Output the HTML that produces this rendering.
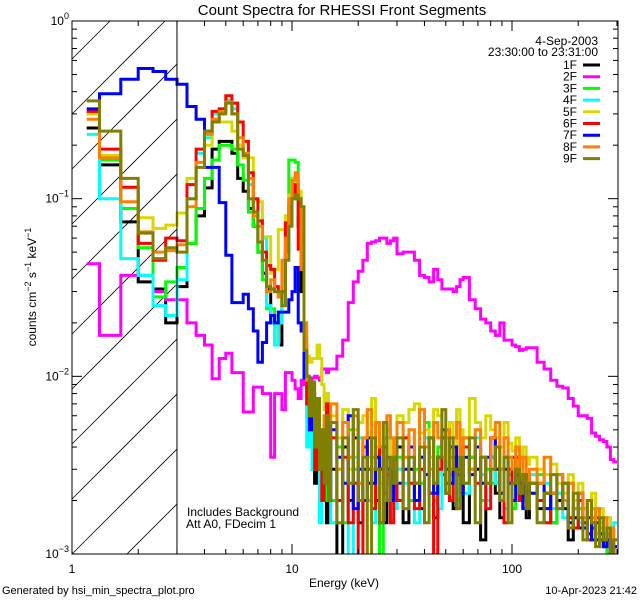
<!DOCTYPE html>
<html><head><meta charset="utf-8"><style>
html,body{margin:0;padding:0;background:#fff;width:640px;height:600px;overflow:hidden;}
svg{display:block;font-family:"Liberation Sans",sans-serif;overflow:hidden;}
</style></head><body>
<svg id="chart" width="640" height="600" viewBox="0 0 640 600" xmlns="http://www.w3.org/2000/svg">
<rect x="0" y="0" width="640" height="600" fill="#fff"/>
<defs><clipPath id="plotclip"><rect x="72" y="21" width="546" height="533"/></clipPath></defs>
<text x="342" y="15" font-size="15" text-anchor="middle">Count Spectra for RHESSI Front Segments</text>
<g id="hatch"></g>
<g id="series" clip-path="url(#plotclip)"></g>
<g id="axes"></g>
<text x="187" y="516" font-size="12">Includes Background</text>
<text x="186" y="528" font-size="12">Att A0, FDecim 1</text>
<text x="344" y="587" font-size="12" text-anchor="middle">Energy (keV)</text>
<text transform="translate(36,287) rotate(-90)" font-size="12" text-anchor="middle">counts cm<tspan dy="-5" font-size="9">−2</tspan><tspan dy="5"> s</tspan><tspan dy="-5" font-size="9">−1</tspan><tspan dy="5"> keV</tspan><tspan dy="-5" font-size="9">−1</tspan></text>
<text x="2" y="594" font-size="11">Generated by hsi_min_spectra_plot.pro</text>
<text x="637" y="594" font-size="11" text-anchor="end">10-Apr-2023 21:42</text>
<text x="598" y="45" font-size="12" text-anchor="end">4-Sep-2003</text>
<text x="598" y="56" font-size="12" text-anchor="end">23:30:00 to 23:31:00</text>
<g id="legend"></g>
</svg>
<script>
const seriesNames = ["1F","2F","3F","4F","5F","6F","7F","8F","9F"];
const seriesColors = ["#000000","#ff00ff","#00ff00","#00ffff","#d8d800","#ff0000","#0000ff","#ff8000","#808000"];
const binSegments = [[1.1667,1.3333,1/6],[1.3333,15,1/3],[15,30,1],[30,60,2],[60,120,4],[120,300,10]];
const xTicksMajor = [1,10,100];
const xTickLabels = ["1","10","100"];
const yTicksMajor = [1,0.1,0.01,0.001];
const yTickExp = ["0","−1","−2","−3"];

const low1F=[.25,.155,.074,.034,.031,.02,.032,.056,.08,.115,.19,.21,.21,.18,.13,.11,.088,.07,.05,.038,.031,.02,.02,.015,.03,.05,.08,.12,.12,.07,.03,.012,.008,.004,.006,.0025,.005,.003,.0045,.0035,.0015,.003];
const low2F=[.043,.017,.037,.037,.03,.027,.027,.02,.017,.015,.0097,.0126,.0135,.0105,.0105,.0063,.0063,.0087,.0087,.008,.008,.0035,.008,.008,.0065,.0105,.0105,.0095,.0085,.0075,.0095,.009,.0095,.0095,.0098,.01,.0098,.0095,.011,.011,.0105,.011];
const low3F=[.3,.165,.088,.053,.028,.034,.041,.056,.088,.13,.165,.2,.2,.19,.155,.127,.084,.07,.05,.035,.024,.024,.015,.02,.03,.065,.165,.165,.16,.09,.04,.015,.006,.009,.003,.007,.004,.0025,.005,.006,.002,.004];
const low4F=[.23,.1,.046,.037,.025,.022,.035,.1,.18,.22,.3,.32,.36,.32,.2,.17,.12,.085,.07,.06,.025,.02,.015,.02,.025,.05,.09,.13,.12,.08,.04,.015,.004,.007,.003,.006,.0045,.0015,.004,.0055,.003,.002];
const low5F=[.3,.175,.116,.078,.068,.071,.083,.13,.16,.2,.27,.27,.27,.24,.2,.17,.17,.098,.096,.061,.061,.038,.04,.067,.067,.08,.105,.13,.12,.11,.06,.018,.013,.012,.0126,.0126,.015,.0126,.009,.0065,.008,.0055];
const low6F=[.31,.19,.116,.056,.045,.06,.058,.12,.19,.24,.31,.32,.38,.345,.27,.21,.14,.1,.075,.05,.042,.04,.032,.028,.03,.073,.09,.1,.12,.052,.04,.015,.007,.005,.008,.003,.006,.0045,.002,.005,.007,.003];
const low7F=[.32,.39,.47,.54,.52,.47,.44,.33,.28,.15,.15,.095,.048,.026,.026,.029,.024,.018,.012,.0155,.02,.022,.02,.023,.023,.023,.027,.03,.041,.02,.018,.0098,.0098,.005,.008,.004,.006,.003,.004,.0025,.0045,.002];
const low8F=[.28,.17,.096,.065,.05,.051,.055,.09,.16,.23,.28,.31,.35,.3,.22,.18,.13,.08,.07,.045,.03,.035,.03,.028,.045,.06,.1,.127,.14,.1,.04,.02,.0095,.006,.009,.004,.007,.003,.005,.006,.0035,.0045];
const low9F=[.355,.24,.13,.064,.046,.053,.05,.1,.15,.24,.27,.3,.345,.3,.19,.175,.1,.084,.057,.045,.032,.031,.03,.03,.025,.045,.07,.1,.105,.1,.09,.014,.01,.006,.0093,.004,.0075,.003,.005,.0025,.006,.002];

const high1F=[.003,.0005,.004,.002,.0045,.0015,.003,.0025,.0045,.002,.003,.0015,.0035,.0025,.002,.004,.0015,.003,.0025,.0018,.004,.0022,.0016,.0035,.0028,.0022,.004,.0018,.003,.0025,.0015,.0035,.003,.0012,.0025,.0035,.0022,.0016,.003,.0025,.0035,.0028,.002,.0022,.0016,.0025,.0018,.0022,.0015,.002,.0018,.0012,.0016,.0014,.0018,.0013,.0015,.0012,.0014,.0011,.0012,.001,.0011];
const high2F=[.011,.013,.016,.026,.034,.039,.045,.056,.057,.058,.06,.06,.056,.058,.06,.049,.05,.05,.045,.037,.036,.034,.04,.035,.031,.031,.031,.03,.032,.035,.036,.027,.024,.021,.02,.018,.017,.02,.016,.016,.015,.0147,.014,.0142,.0145,.0145,.012,.011,.0095,.0088,.0086,.0075,.0068,.006,.006,.0058,.0048,.0046,.0044,.0043,.004,.0034,.0033];
const high3F=[.002,.004,.0015,.005,.003,.0025,.0045,.002,.0035,.003,.0005,.0045,.0025,.003,.002,.0035,.0045,.002,.003,.0025,.0055,.0035,.002,.004,.0045,.0025,.0035,.003,.002,.0045,.0025,.0035,.004,.002,.003,.0025,.004,.0022,.0035,.0028,.0018,.0035,.0025,.002,.0028,.0022,.0028,.0018,.0015,.0022,.0025,.0016,.0014,.0018,.0015,.0012,.0016,.0013,.0012,.0014,.001,.0012,.0009];
const high4F=[.0015,.003,.0025,.0005,.0035,.0045,.002,.003,.0015,.004,.0025,.002,.0045,.003,.0018,.003,.0025,.004,.0015,.0035,.0045,.003,.0025,.0018,.0035,.0045,.0028,.002,.0035,.003,.0022,.003,.0045,.0028,.002,.0035,.0025,.003,.0018,.0035,.003,.0022,.0028,.0025,.002,.0028,.002,.0025,.0018,.0022,.0016,.0025,.0018,.0015,.0014,.0016,.0018,.0013,.0015,.0011,.0016,.0012,.0015];
const high5F=[.006,.0045,.0065,.003,.005,.0055,.006,.0035,.0075,.004,.0025,.0055,.005,.003,.0045,.006,.0055,.0065,.007,.0048,.005,.0035,.0065,.006,.0045,.005,.0055,.004,.0065,.005,.0045,.0075,.0055,.0045,.006,.005,.0045,.004,.0055,.0042,.0038,.0045,.0035,.004,.0032,.0035,.003,.0028,.0032,.0025,.0022,.0028,.002,.0025,.0018,.002,.0022,.0016,.0018,.0014,.0016,.0013,.0012];
const high6F=[.0045,.002,.0035,.0015,.0025,.0005,.004,.003,.0018,.0035,.004,.0022,.0028,.0015,.0035,.002,.0045,.0025,.0018,.003,.004,.0022,.0008,.003,.0045,.0025,.002,.0035,.0028,.0022,.004,.003,.0025,.0035,.0018,.0045,.003,.0022,.0015,.003,.0025,.0035,.002,.0028,.0022,.0025,.002,.0015,.0022,.0018,.0025,.0016,.0014,.002,.0015,.0012,.0014,.0016,.0012,.0011,.0013,.001,.0012];
const high7F=[.005,.0035,.0025,.006,.0018,.003,.002,.0045,.0025,.0035,.0015,.004,.003,.002,.0035,.0025,.003,.004,.002,.0035,.0028,.0045,.0022,.0035,.005,.003,.0025,.004,.0028,.0022,.0035,.0028,.004,.0025,.0035,.0045,.003,.0022,.0035,.0025,.002,.003,.0025,.0018,.0028,.0022,.0025,.0018,.0022,.0028,.002,.0015,.0018,.0022,.0014,.0016,.0012,.0015,.0013,.0011,.0012,.001,.0011];
const high8F=[.007,.003,.0055,.0035,.006,.0025,.0045,.0065,.003,.0055,.004,.002,.006,.0045,.003,.0055,.0035,.005,.0025,.0065,.004,.003,.0055,.0045,.0035,.005,.003,.0045,.0055,.0035,.0045,.003,.005,.0035,.0025,.0045,.0055,.003,.0045,.0035,.003,.004,.0028,.0035,.0025,.003,.0025,.0035,.0022,.0028,.002,.0025,.0018,.0022,.0016,.002,.0015,.0018,.0014,.0016,.0013,.0014,.0012];
const high9F=[.0055,.0015,.0045,.0025,.0065,.002,.0035,.0005,.0045,.003,.0015,.0055,.002,.0035,.0025,.0045,.0018,.0035,.0025,.004,.0015,.0045,.0025,.0035,.0065,.0022,.0045,.003,.0018,.0035,.0025,.0045,.0015,.0035,.0025,.003,.004,.002,.0035,.0015,.0025,.003,.0022,.0028,.0018,.0025,.0015,.0022,.0028,.0018,.0025,.0014,.0022,.0016,.0012,.002,.0015,.0011,.0016,.0012,.0014,.001,.0012];

const lowSeries=[low1F,low2F,low3F,low4F,low5F,low6F,low7F,low8F,low9F];
const highSeries=[high1F,high2F,high3F,high4F,high5F,high6F,high7F,high8F,high9F];

const NS="http://www.w3.org/2000/svg";
const PX0=72, PX1=618, PY0=21, PY1=554;
const XDEC=220, YDEC=(PY1-PY0)/3;
function xs(e){return PX0+XDEC*Math.log10(e);}
function ys(v){return PY0-YDEC*Math.log10(Math.max(v,2e-4));}
function mk(tag,attrs,parent){const el=document.createElementNS(NS,tag);for(const k in attrs)el.setAttribute(k,attrs[k]);parent.appendChild(el);return el;}

const edges=[binSegments[0][0]];
binSegments.forEach(s=>{let n=Math.round((s[1]-s[0])/s[2]);for(let i=1;i<=n;i++)edges.push(s[0]+i*s[2]);});

const hatch=document.getElementById('hatch');
const xh=xs(3);
for(let k=-3;k<14;k++){
  const b=PY1-k*55; // line: y = b - (x-PX0)
  let xa=PX0, xb=xh;
  // clip to y in [PY0,PY1]
  xa=Math.max(xa, PX0+(b-PY1));
  xb=Math.min(xb, PX0+(b-PY0));
  if(xb<=xa) continue;
  const ln=mk('line',{x1:xa,y1:b-(xa-PX0),x2:xb,y2:b-(xb-PX0),stroke:'#000','stroke-width':0.8},hatch);
  
  
}
const vline=mk('line',{x1:xh,y1:PY0,x2:xh,y2:PY1,stroke:'#000','stroke-width':1},document.getElementById('axes'));



const sg=document.getElementById('series');
for(let s=0;s<seriesNames.length;s++){
  const vals=lowSeries[s].concat(highSeries[s]);
  const n=Math.min(vals.length,edges.length-1);
  let d='M'+xs(edges[0]).toFixed(1)+','+ys(vals[0]).toFixed(1);
  for(let i=0;i<n;i++){
    if(i>0)d+='V'+ys(vals[i]).toFixed(1);
    d+='H'+Math.min(xs(edges[i+1]),PX1).toFixed(1);
  }
  const p=mk('path',{d:d,fill:'none',stroke:seriesColors[s],'stroke-width':3,'stroke-linejoin':'miter'},sg);
  
  
}

const ax=document.getElementById('axes');
const frame=mk('rect',{x:PX0,y:PY0,width:PX1-PX0,height:PY1-PY0,fill:'none',stroke:'#000','stroke-width':1},ax);


for(let dec=0;dec<3;dec++){
  for(let m=1;m<10;m++){
    const e=m*Math.pow(10,dec);const x=xs(e);if(x>PX1)continue;
    const L=(m===1)?10:5;
    mk('line',{x1:x,y1:PY1,x2:x,y2:PY1-L,stroke:'#000'},ax);
    mk('line',{x1:x,y1:PY0,x2:x,y2:PY0+L,stroke:'#000'},ax);
  }
}
xTicksMajor.forEach((e,i)=>{
  const t=mk('text',{x:xs(e),y:573,'font-size':12,'text-anchor':'middle'},ax);
  t.textContent=xTickLabels[i];
  
  
});
for(let dec=-3;dec<0;dec++){
  for(let m=1;m<10;m++){
    const v=m*Math.pow(10,dec);const y=ys(v);
    const L=(m===1)?10:5;
    mk('line',{x1:PX0,y1:y,x2:PX0+L,y2:y,stroke:'#000'},ax);
    mk('line',{x1:PX1,y1:y,x2:PX1-L,y2:y,stroke:'#000'},ax);
  }
}
yTicksMajor.forEach((v,i)=>{
  const y=ys(v);
  const t=mk('text',{x:PX0-3,y:y+4,'font-size':12,'text-anchor':'end'},ax);
  
  
  const a=document.createElementNS(NS,'tspan');a.textContent='10';t.appendChild(a);
  const b=document.createElementNS(NS,'tspan');b.setAttribute('dy','-6');b.setAttribute('font-size','9');b.textContent=yTickExp[i];t.appendChild(b);
});

const lg=document.getElementById('legend');
seriesNames.forEach((nm,i)=>{
  const y=69+i*11.7;
  const t=mk('text',{x:577,y:y,'font-size':12,'text-anchor':'end'},lg);
  t.textContent=nm;
  
  
  const l=mk('line',{x1:583,y1:y-4,x2:600,y2:y-4,stroke:seriesColors[i],'stroke-width':3},lg);
  
  
});
</script>
</body></html>
